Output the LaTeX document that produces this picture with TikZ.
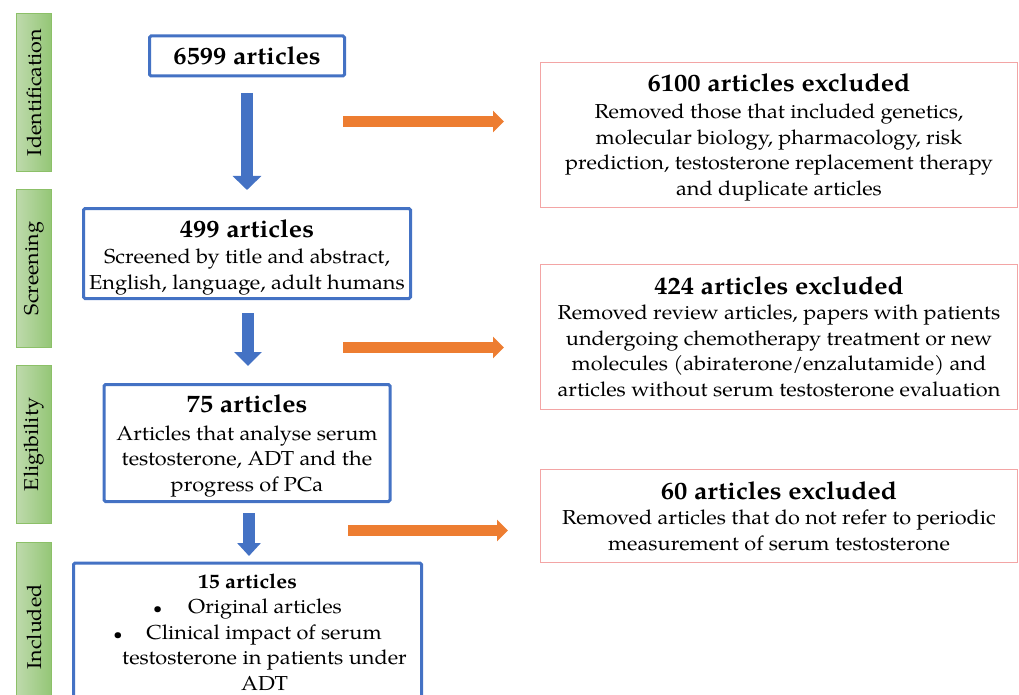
\documentclass[tikz,border=0pt]{standalone}
\usepackage{fontspec}
\setmainfont[FakeStretch=1.075]{TeX Gyre Pagella}
\usetikzlibrary{arrows.meta}
\definecolor{bluec}{RGB}{68,114,196}
\definecolor{orangec}{RGB}{237,125,49}
\definecolor{pinkc}{RGB}{243,165,165}
\definecolor{greenl}{RGB}{190,218,172}
\definecolor{greenr}{RGB}{148,198,118}
\definecolor{greenb}{RGB}{140,192,104}
\tikzset{
  bluebox/.style={draw=bluec, line width=3pt, rounded corners=1.5pt, fill=white, align=center, inner sep=0pt},
  pinkbox/.style={draw=pinkc, line width=1pt, fill=white, align=center, inner sep=0pt, minimum width=477pt},
  stagebox/.style={draw=greenb, line width=1pt, left color=greenl, right color=greenr, minimum width=35pt, minimum height=158pt, inner sep=0pt, font=\fontsize{20}{22}\selectfont},
  bodyfont/.style={font=\fontsize{20.2}{25.5}\selectfont},
  downarrow/.style={draw=bluec, line width=#1},
  rightarrow/.style={draw=orangec, line width=11pt, -{Triangle[width=21pt,length=11pt]}},
}
\newcommand{\ttl}[1]{{\fontsize{24.7}{28}\selectfont\bfseries #1}}
\newcommand{\blt}{\scalebox{0.75}{\textbullet}}
\newcommand{\blk}[2]{\raisebox{-#1}[\height][\depth]{\begin{tabular}{@{}c@{}}#2\end{tabular}}}
\begin{document}
\begin{tikzpicture}[x=1pt,y=-1pt]
\useasboundingbox (0,0) rectangle (1019,695);
% stage labels
\node[stagebox] (s1) at (34,92.5) {\rotatebox{90}{Identification}};
\node[stagebox] (s2) at (34,268.5) {\rotatebox{90}{Screening}};
\node[stagebox] (s3) at (34,444.5) {\rotatebox{90}{Eligibility}};
\node[stagebox, minimum height=170pt] (s4) at (34,627) {\rotatebox{90}{Included}};
% left column boxes
\node[bluebox, minimum width=195pt, minimum height=40pt] (b1) at (247,56) {\ttl{6599 articles}};
\node[bluebox, bodyfont, minimum width=327pt, minimum height=90pt] (b2) at (247,253.5)
  {\blk{4.5pt}{\ttl{499 articles}\\[1pt]Screened by title and abstract,\\English, language, adult humans}};
\node[bluebox, bodyfont, minimum width=286pt, minimum height=117pt] (b3) at (247,443)
  {\blk{4pt}{\ttl{75 articles}\\[2pt]Articles that analyse serum\\testosterone, ADT and the\\progress of PCa}};
\node[bluebox, bodyfont, minimum width=348pt, minimum height=138pt] (b4) at (247.5,632)
  {\textbf{15 articles}\\\blt\hspace{26pt}Original articles\\\blt\hspace{24pt}Clinical impact of serum\\\hspace*{34pt}testosterone in patients under\\\hspace*{34pt}ADT};
% right column boxes
\node[pinkbox, bodyfont, minimum height=144pt] (r1) at (779,135)
  {\blk{3pt}{\ttl{6100 articles excluded}\\[2pt]Removed those that included genetics,\\molecular biology, pharmacology, risk\\prediction, testosterone replacement therapy\\and duplicate articles}};
\node[pinkbox, bodyfont, minimum height=145pt] (r2) at (779,336.5)
  {\ttl{424 articles excluded}\\Removed review articles, papers with patients\\undergoing chemotherapy treatment or new\\molecules (abiraterone/enzalutamide) and\\articles without serum testosterone evaluation};
\node[pinkbox, bodyfont, minimum height=93pt] (r3) at (779,516)
  {\ttl{60 articles excluded}\\Removed articles that do not refer to periodic\\measurement of serum testosterone};
% blue down arrows
\coordinate (d1s) at (247,93);  \coordinate (d1e) at (247,190);
\coordinate (d2s) at (248,313); \coordinate (d2e) at (248,366);
\coordinate (d3s) at (249,513); \coordinate (d3e) at (249,556);
\draw[downarrow=12.6pt, -{Triangle[width=28pt,length=14pt]}, fill=bluec] (d1s) -- (d1e);
\draw[downarrow=11.3pt, -{Triangle[width=27pt,length=14pt]}, fill=bluec] (d2s) -- (d2e);
\draw[downarrow=11.7pt, -{Triangle[width=23pt,length=13pt]}, fill=bluec] (d3s) -- (d3e);
% orange right arrows
\coordinate (o1s) at (343,121.5); \coordinate (o1e) at (504,121.5);
\coordinate (o2s) at (343,347.5); \coordinate (o2e) at (504,347.5);
\coordinate (o3s) at (348,530.5); \coordinate (o3e) at (508,530.5);
\draw[rightarrow] (o1s) -- (o1e);
\draw[rightarrow] (o2s) -- (o2e);
\draw[rightarrow] (o3s) -- (o3e);
\end{tikzpicture}
\end{document}
